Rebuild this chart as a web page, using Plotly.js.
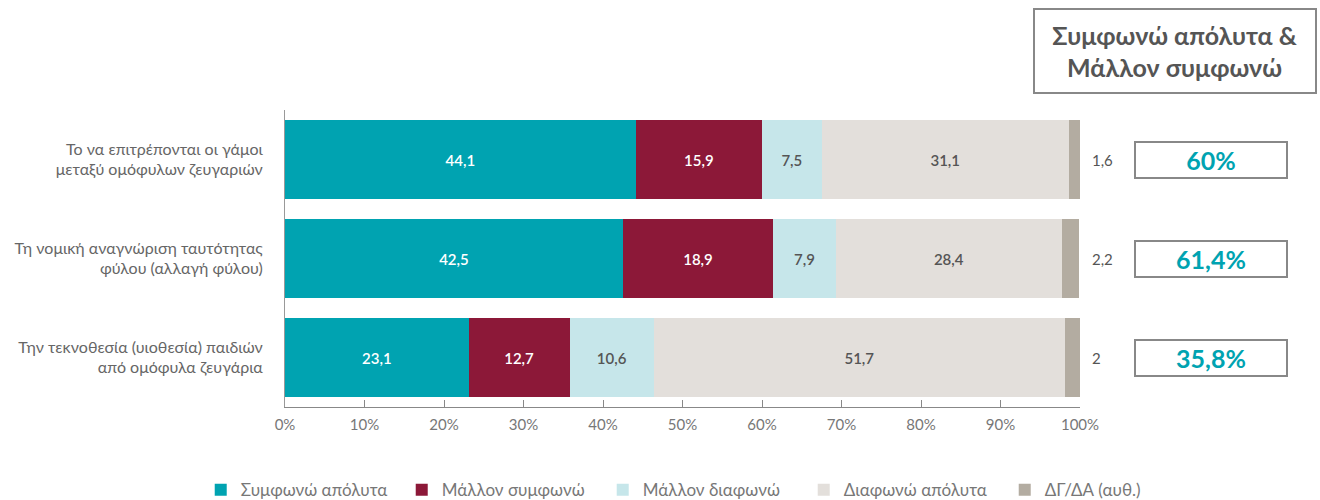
<!DOCTYPE html>
<html>
<head>
<meta charset="utf-8">
<script src="https://cdn.plot.ly/plotly-3.0.1.min.js"></script>
<style>html,body{margin:0;padding:0;background:#fff}#chart{width:1320px;height:500px}</style>
</head>
<body>
<div id="chart"></div>
<script>
const categories = [
  "Το να επιτρέπονται οι γάμοι<br>μεταξύ ομόφυλων ζευγαριών",
  "Τη νομική αναγνώριση ταυτότητας<br>φύλου (αλλαγή φύλου)",
  "Την τεκνοθεσία (υιοθεσία) παιδιών<br>από ομόφυλα ζευγάρια"
];
const seriesNames = ["Συμφωνώ απόλυτα", "Μάλλον συμφωνώ", "Μάλλον διαφωνώ", "Διαφωνώ απόλυτα", "ΔΓ/ΔΑ (αυθ.)"];
const agreeFully   = [44.1, 42.5, 23.1];
const agreeRather  = [15.9, 18.9, 12.7];
const disagreeRather = [7.5, 7.9, 10.6];
const disagreeFully  = [31.1, 28.4, 51.7];
const dontKnow     = [1.6, 2.2, 2];
const xTicks = [0, 10, 20, 30, 40, 50, 60, 70, 80, 90, 100];
const boxTitle = "Συμφωνώ απόλυτα &<br>Μάλλον συμφωνώ";

const colors = ["#00A3B1", "#8C1838", "#C6E6EA", "#E3DFDB", "#B3ACA1"];
const textColors = ["#ffffff", "#ffffff", "#555555", "#555555", "#555555"];
const FONT = "Lato, 'Noto Sans', sans-serif";
const allSeries = [agreeFully, agreeRather, disagreeRather, disagreeFully, dontKnow];

const traces = allSeries.map((vals, i) => ({
  type: "bar",
  orientation: "h",
  name: seriesNames[i],
  y: categories,
  x: vals,
  marker: { color: colors[i], line: { width: 0 } },
  texttemplate: i < 4 ? "%{x:.1f}" : "",
  textposition: i < 4 ? "inside" : "none",
  insidetextanchor: "middle",
  textfont: { family: FONT, size: 15, color: textColors[i], weight: 600 },
  hoverinfo: "skip",
  cliponaxis: true
}));

const fmt = v => (Math.round(v * 10) / 10).toString().replace(".", ",");
const annotations = [];
categories.forEach((c, i) => {
  annotations.push({
    xref: "paper", yref: "y", x: 1.012, y: c, xanchor: "left", yanchor: "middle",
    text: fmt(dontKnow[i]), showarrow: false,
    font: { family: FONT, size: 15, color: "#555" }
  });
  annotations.push({
    xref: "paper", yref: "y", x: 1.165, y: c, xanchor: "center", yanchor: "middle",
    text: "<b>" + fmt(agreeFully[i] + agreeRather[i]) + "%</b>", showarrow: false,
    width: 148, height: 32, bordercolor: "#888", borderwidth: 2, borderpad: 1,
    bgcolor: "#fff",
    font: { family: FONT, size: 25, color: "#00A3B1" }
  });
});
annotations.push({
  xref: "paper", yref: "paper", x: 1.1195, y: 1.2, xanchor: "center", yanchor: "middle",
  text: "<b>" + boxTitle + "</b>", showarrow: false,
  width: 278, height: 80, bordercolor: "#888", borderwidth: 2, borderpad: 1,
  align: "center",
  font: { family: FONT, size: 25, color: "#555" }
});

const layout = {
  width: 1320, height: 500,
  margin: { l: 285, r: 240, t: 110, b: 93, autoexpand: false },
  paper_bgcolor: "#fff", plot_bgcolor: "#fff",
  barmode: "stack",
  bargap: 0.21,
  separators: ",.",
  font: { family: FONT, color: "#666" },
  showlegend: true,
  legend: {
    orientation: "h", xref: "paper", yref: "paper",
    x: -0.106, xanchor: "left", y: -0.28, yanchor: "middle",
    entrywidth: 156, entrywidthmode: "pixels",
    font: { family: FONT, size: 17, color: "#777" }, traceorder: "normal",
    itemclick: false
  },
  xaxis: {
    range: [0, 100], tickvals: xTicks, ticktext: xTicks.map(v => v + "%"),
    showgrid: false, zeroline: false, showline: true, linecolor: "#888", linewidth: 1,
    ticks: "inside", ticklen: 7, tickcolor: "#888",
    ticklabelstandoff: 4,
    tickfont: { family: FONT, size: 15, color: "#777" },
    fixedrange: true
  },
  yaxis: {
    autorange: "reversed", showgrid: false, zeroline: false,
    showline: true, linecolor: "#999", linewidth: 1, ticks: "",
    ticklabelstandoff: 18,
    tickfont: { family: FONT, size: 16, color: "#666" },
    fixedrange: true
  },
  annotations: annotations
};

Plotly.newPlot("chart", traces, layout, { displayModeBar: false, staticPlot: true });
</script>
</body>
</html>
